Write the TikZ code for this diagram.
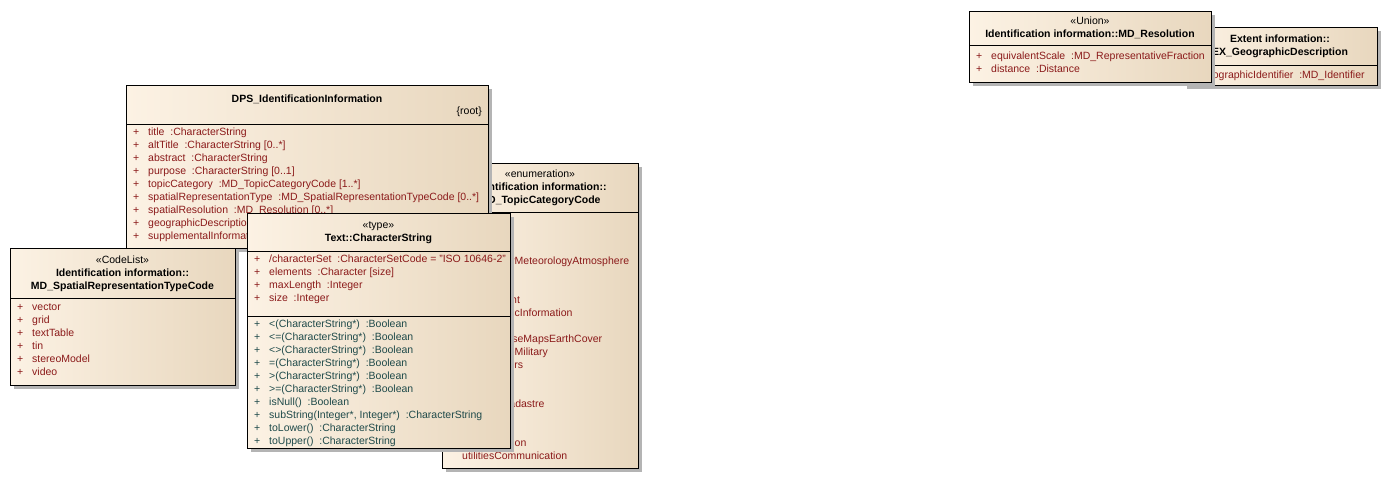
\documentclass[tikz,border=0pt]{standalone}
\usepackage{fontspec}
\setmainfont{Liberation Sans}
\usetikzlibrary{shadows}
\definecolor{boxleft}{HTML}{FCF2E4}
\definecolor{boxright}{HTML}{E8D7BE}
\definecolor{shadowgray}{HTML}{B4B4B4}
\definecolor{attrred}{HTML}{8B1A1A}
\definecolor{operteal}{HTML}{1F4A4A}
\newcommand{\umlfont}{\fontsize{10.5}{12}\selectfont}
\begin{document}
\begin{tikzpicture}[x=1pt, y=-1pt,
    every node/.style={font=\umlfont, inner sep=0pt},
    umlbox/.style={draw=black, line width=1pt, left color=boxleft, right color=boxright,
      anchor=north west, outer sep=0pt,
      drop shadow={shadow xshift=4pt, shadow yshift=-4pt, opacity=1, fill=shadowgray}},
    divider/.style={line width=1pt},
    attr/.style={anchor=mid west, text=attrred},
    oper/.style={anchor=mid west, text=operteal},
    head/.style={anchor=mid, font=\umlfont\bfseries},
    stereo/.style={anchor=mid}]
    \useasboundingbox (0,0) rectangle (1387,498);

    % Extent information::EX_GeographicDescription
    \node[umlbox, minimum width=194pt, minimum height=58pt] (geodesc) at (1183,27) {};
    \node[head] (geodesc-pkg) at (geodesc.north |- 0,40) {Extent information::};
    \node[head] (geodesc-name) at (geodesc.north |- 0,53) {EX\_GeographicDescription};
    \draw[divider] (geodesc.west |- 0,65) -- (geodesc.east |- 0,65);
    \node[attr] (geodesc-p0) at (1189,76) {+};
    \node[attr] (geodesc-a0) at (1201,76) {geographicIdentifier~~:MD\_Identifier};

    % Identification information::MD_Resolution
    \node[umlbox, minimum width=242pt, minimum height=71pt] (resolution) at (969,11) {};
    \node[stereo] (resolution-st) at (resolution.north |- 0,22) {«Union»};
    \node[head] (resolution-name) at (resolution.north |- 0,35) {Identification information::MD\_Resolution};
    \draw[divider] (resolution.west |- 0,45) -- (resolution.east |- 0,45);
    \foreach \t [count=\i from 0] in {equivalentScale~~:MD\_RepresentativeFraction, distance~~:Distance} {
        \node[attr] (resolution-p\i) at (976,57+13*\i) {+};
        \node[attr] (resolution-a\i) at (991,57+13*\i) {\t};
    }

    % enumeration MD_TopicCategoryCode
    \node[umlbox, minimum width=196pt, minimum height=305pt] (topiccat) at (442,163) {};
    \node[stereo] (topiccat-st) at (topiccat.north |- 0,175) {«enumeration»};
    \node[head] (topiccat-pkg) at (topiccat.north |- 0,188) {Identification information::};
    \node[head] (topiccat-name) at (topiccat.north |- 0,201) {MD\_TopicCategoryCode};
    \draw[divider] (topiccat.west |- 0,212) -- (topiccat.east |- 0,212);
    \foreach \t [count=\i from 0] in {farming, biota, boundaries, climatologyMeteorologyAtmosphere,
        economy, elevation, environment, geoscientificInformation, health, imageryBaseMapsEarthCover,
        intelligenceMilitary, inlandWaters, location, oceans, planningCadastre, society, structure,
        transportation, utilitiesCommunication} {
        \node[attr] (topiccat-a\i) at (462,223+13*\i) {\t};
    }

    % DPS_IdentificationInformation
    \node[umlbox, minimum width=362pt, minimum height=163pt] (dps) at (126,85) {};
    \node[head] (dps-name) at (dps.north |- 0,100) {DPS\_IdentificationInformation};
    \node[anchor=mid east] (dps-root) at (482,112) {\{root\}};
    \draw[divider] (dps.west |- 0,124) -- (dps.east |- 0,124);
    \foreach \t [count=\i from 0] in {title~~:CharacterString, altTitle~~:CharacterString [0..*],
        abstract~~:CharacterString, purpose~~:CharacterString [0..1],
        topicCategory~~:MD\_TopicCategoryCode [1..*],
        spatialRepresentationType~~:MD\_SpatialRepresentationTypeCode [0..*],
        spatialResolution~~:MD\_Resolution [0..*],
        geographicDescription~~:EX\_GeographicDescription [0..*],
        supplementalInformation~~:CharacterString [0..1]} {
        \node[attr] (dps-p\i) at (133,133+13*\i) {+};
        \node[attr] (dps-a\i) at (148,133+13*\i) {\t};
    }

    % CodeList MD_SpatialRepresentationTypeCode
    \node[umlbox, minimum width=225pt, minimum height=137pt] (codelist) at (10,248) {};
    \node[stereo] (codelist-st) at (codelist.north |- 0,261) {«CodeList»};
    \node[head] (codelist-pkg) at (codelist.north |- 0,274) {Identification information::};
    \node[head] (codelist-name) at (codelist.north |- 0,287) {MD\_SpatialRepresentationTypeCode};
    \draw[divider] (codelist.west |- 0,298) -- (codelist.east |- 0,298);
    \foreach \t [count=\i from 0] in {vector, grid, textTable, tin, stereoModel, video} {
        \node[attr] (codelist-p\i) at (17,308+13*\i) {+};
        \node[attr] (codelist-a\i) at (32,308+13*\i) {\t};
    }

    % type Text::CharacterString
    \node[umlbox, minimum width=263pt, minimum height=235pt] (charstr) at (247,213) {};
    \node[stereo] (charstr-st) at (charstr.north |- 0,226) {«type»};
    \node[head] (charstr-name) at (charstr.north |- 0,239) {Text::CharacterString};
    \draw[divider] (charstr.west |- 0,251) -- (charstr.east |- 0,251);
    \foreach \t [count=\i from 0] in {/characterSet~~:CharacterSetCode = "ISO 10646-2",
        elements~~:Character [size], maxLength~~:Integer, size~~:Integer} {
        \node[attr] (charstr-p\i) at (254,260+13*\i) {+};
        \node[attr] (charstr-a\i) at (269,260+13*\i) {\t};
    }
    \draw[divider] (charstr.west |- 0,316) -- (charstr.east |- 0,316);
    \foreach \t [count=\i from 0] in {<(CharacterString*)~~:Boolean, <=(CharacterString*)~~:Boolean,
        <>(CharacterString*)~~:Boolean, =(CharacterString*)~~:Boolean,
        >(CharacterString*)~~:Boolean, >=(CharacterString*)~~:Boolean, isNull()~~:Boolean,
        {subString(Integer*, Integer*)~~:CharacterString}, toLower()~~:CharacterString,
        toUpper()~~:CharacterString} {
        \node[oper] (charstr-p\i) at (254,325+13*\i) {+};
        \node[oper] (charstr-o\i) at (269,325+13*\i) {\t};
    }
\end{tikzpicture}
\end{document}
